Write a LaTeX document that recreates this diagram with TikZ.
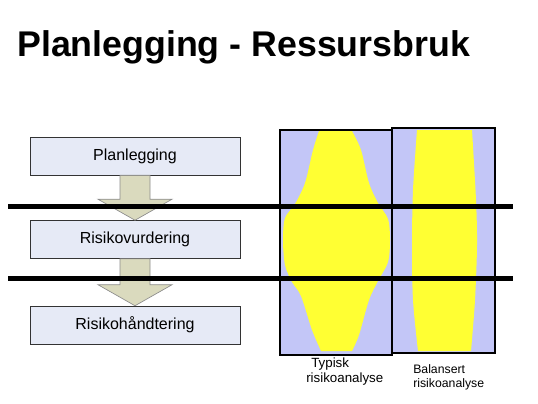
\documentclass[tikz,border=0pt]{standalone}
\usepackage{fontspec}
\setmainfont{Liberation Sans}
\usetikzlibrary{calc}
\definecolor{boxfill}{HTML}{E6EAF6}
\definecolor{arrowfill}{HTML}{DADABE}
\definecolor{lavender}{HTML}{C3C6F7}
\definecolor{sunyellow}{HTML}{FFFF33}

\begin{document}
\begin{tikzpicture}[
				x=0.75pt,y=-0.75pt,
				step box/.style={draw=black!80,rectangle,minimum width=157.5pt,minimum height=28.5pt,fill=boxfill,font=\fontsize{12}{14}\selectfont},
				block arrow/.style={draw=black!45,fill=arrowfill,line width=0.5pt},
				column/.style={fill=lavender},
				frame/.style={draw=black,line width=1.5pt},
				level line/.style={draw=black,line width=3.75pt},
				caption/.style={anchor=west,inner sep=0pt,font=\fontsize{10}{12}\selectfont}
				]
				\useasboundingbox (0,0) rectangle (538,403);
				
				\node[anchor=west,inner sep=0pt,font=\fontsize{26.8}{30}\selectfont\bfseries] (title) at (17,47) {Planlegging - Ressursbruk};
				
				\node[step box] (plan) at (135,156) {Planlegging};
				\node[step box] (vurd) at (135,239.5) {Risikovurdering};
				\node[step box] (hand) at (135,325) {Risikohåndtering};
				
				% block arrows between the steps
				\draw[block arrow] ($(plan.south)+(-15,0)$) -- ($(plan.south)+(15,0)$) -- ($(vurd.north)+(15,-21)$) -- ($(vurd.north)+(37,-21)$) -- (vurd.north) -- ($(vurd.north)+(-37,-21)$) -- ($(vurd.north)+(-15,-21)$) -- cycle;
				\draw[block arrow] ($(vurd.south)+(-15,0)$) -- ($(vurd.south)+(15,0)$) -- ($(hand.north)+(15,-21)$) -- ($(hand.north)+(37,-21)$) -- (hand.north) -- ($(hand.north)+(-37,-21)$) -- ($(hand.north)+(-15,-21)$) -- cycle;
				
				% resource columns
				\fill[column] (280,130) rectangle (392,355);
				\fill[column] (392,128) rectangle (495,353);
				\fill[sunyellow] plot[smooth] coordinates {(352,131) (361,150) (369,183) (378,203) (388,219) (390,240) (388,262) (378,281) (369,300) (359,335) (352,351)}
					-- plot[smooth] coordinates {(321,351) (312,330) (301,296) (292,282) (285,265) (283,240) (285,218) (295,204) (305,183) (313,150) (319,131)} -- cycle;
				\fill[sunyellow] plot[smooth] coordinates {(472,130) (476,200) (477,245) (475,300) (471,351)}
					-- plot[smooth] coordinates {(418,351) (413,300) (412,245) (413,190) (417,130)} -- cycle;
				\draw[frame] (280,130) rectangle (392,355);
				\draw[frame] (392,128) rectangle (495,353);
				
				\node[caption] (typ1) at (311,364) {Typisk};
				\node[caption] (typ2) at (306,379) {risikoanalyse};
				\node[caption,font=\fontsize{9.2}{11}\selectfont] (bal1) at (413,369) {Balansert};
				\node[caption,font=\fontsize{9.2}{11}\selectfont] (bal2) at (413,384) {risikoanalyse};
				
				% level lines
				\draw[level line] (8,206) -- (513,206);
				\draw[level line] (8,278) -- (513,278);
				
			\end{tikzpicture}
\end{document}
